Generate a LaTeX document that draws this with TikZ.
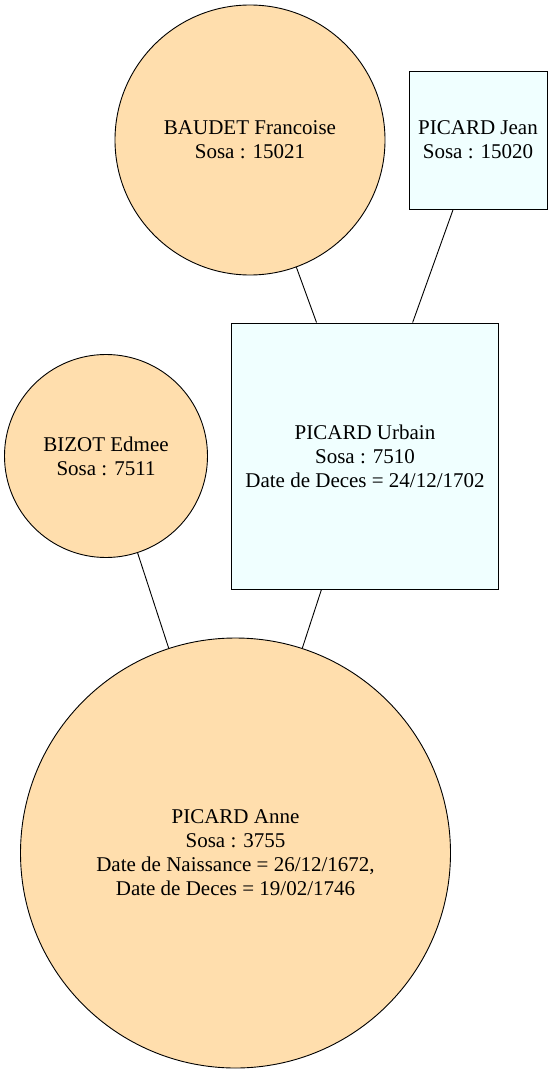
\documentclass[tikz,border=0pt]{standalone}
\usepackage{fontspec}
\setmainfont{Liberation Serif}
\definecolor{navajo}{HTML}{FFDEAD}
\definecolor{azurefill}{HTML}{F0FFFF}
\begin{document}
\begin{tikzpicture}[x=1pt,y=1pt,
  every node/.style={font=\fontsize{21}{24}\selectfont, align=center, inner sep=0pt},
  woman/.style={circle, draw=black, fill=navajo, line width=0.9pt},
  man/.style={rectangle, draw=black, fill=azurefill, line width=0.9pt},
  link/.style={draw=black, line width=0.9pt}]
\useasboundingbox (0,0) rectangle (553,-1075);
\node[woman, minimum size=270] (baudet) at (250,-140) {BAUDET Francoise\\Sosa : 15021};
\node[man, minimum width=138, minimum height=138] (jean) at (478,-140) {PICARD Jean\\Sosa : 15020};
\node[man, minimum width=267, minimum height=266] (urbain) at (365,-456) {PICARD Urbain\\Sosa : 7510\\Date de Deces = 24/12/1702};
\node[woman, minimum size=203] (bizot) at (106,-456) {BIZOT Edmee\\Sosa : 7511};
\node[woman, minimum size=430] (anne) at (235.5,-853) {PICARD Anne\\Sosa : 3755\\Date de Naissance = 26/12/1672,\\Date de Deces = 19/02/1746};
\draw[link] (baudet) -- (urbain);
\draw[link] (jean) -- (urbain);
\draw[link] (bizot) -- (anne);
\draw[link] (urbain) -- (anne);
\end{tikzpicture}
\end{document}
